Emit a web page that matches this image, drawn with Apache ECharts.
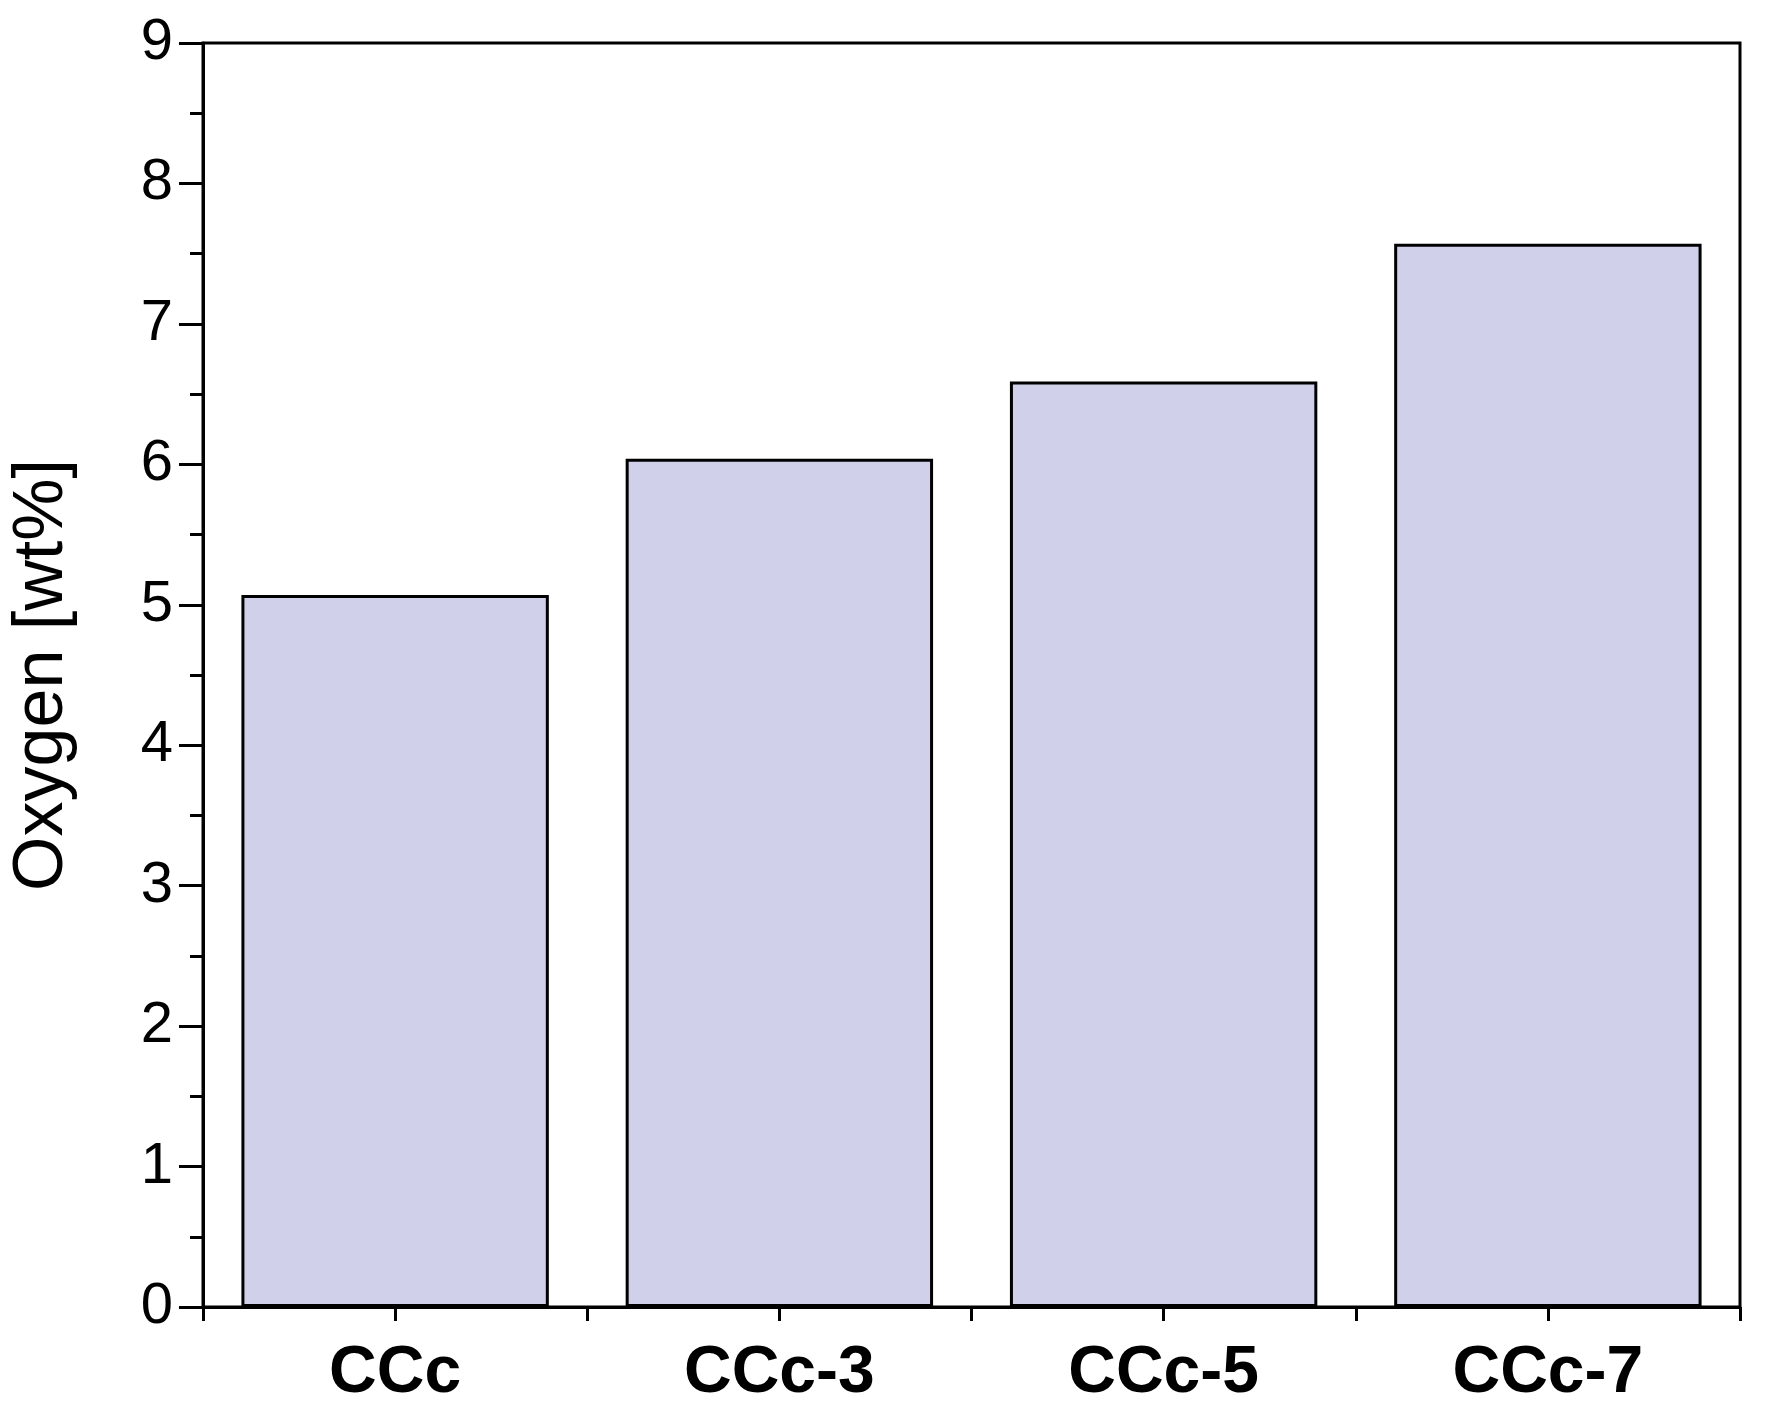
<!DOCTYPE html>
<html><head><meta charset="utf-8">
<script src="https://cdn.jsdelivr.net/npm/echarts@6/dist/echarts.min.js"></script>
<style>html,body{margin:0;padding:0;background:#fff}#c{width:1770px;height:1414px}</style>
</head><body><div id="c"></div>
<script>
const categories = ['CCc', 'CCc-3', 'CCc-5', 'CCc-7'];
const oxygen = [5.07, 6.04, 6.59, 7.57];
const yTicks = [0,1,2,3,4,5,6,7,8,9];
const font = 'Liberation Sans, Arial, sans-serif';
const chart = echarts.init(document.getElementById('c'));
chart.setOption({
  animation: false,
  grid: {left: 200, right: 30, top: 43, bottom: 107, show: true, borderColor: '#000', borderWidth: 3},
  xAxis: [{
    type: 'category', data: categories,
    axisLine: {lineStyle: {color: '#000', width: 3}},
    axisTick: {show: false},
    axisLabel: {color: '#000', fontSize: 66, fontWeight: 'bold', fontFamily: font, margin: 34}
  }, {
    type: 'value', min: 0, max: 4, interval: 0.5, position: 'bottom',
    axisLine: {show: false}, splitLine: {show: false},
    axisTick: {show: true, length: 14, lineStyle: {color: '#000', width: 3}},
    axisLabel: {show: false}
  }],
  yAxis: {
    type: 'value', min: yTicks[0], max: yTicks[yTicks.length-1], interval: 1,
    name: 'Oxygen [wt%]', nameLocation: 'middle', nameGap: 125,
    nameTextStyle: {color: '#000', fontSize: 70, fontFamily: font},
    axisLine: {show: true, lineStyle: {color: '#000', width: 3}},
    axisTick: {show: true, length: 24, lineStyle: {color: '#000', width: 3}},
    minorTick: {show: true, splitNumber: 2, length: 13, lineStyle: {color: '#000', width: 3}},
    splitLine: {show: false},
    axisLabel: {color: '#000', fontSize: 58, fontFamily: font, margin: 30}
  },
  series: [{
    type: 'bar', data: oxygen, barWidth: '80%', xAxisIndex: 0,
    itemStyle: {color: '#d0d0eb', borderColor: '#000', borderWidth: 3}
  }]
});
</script></body></html>
